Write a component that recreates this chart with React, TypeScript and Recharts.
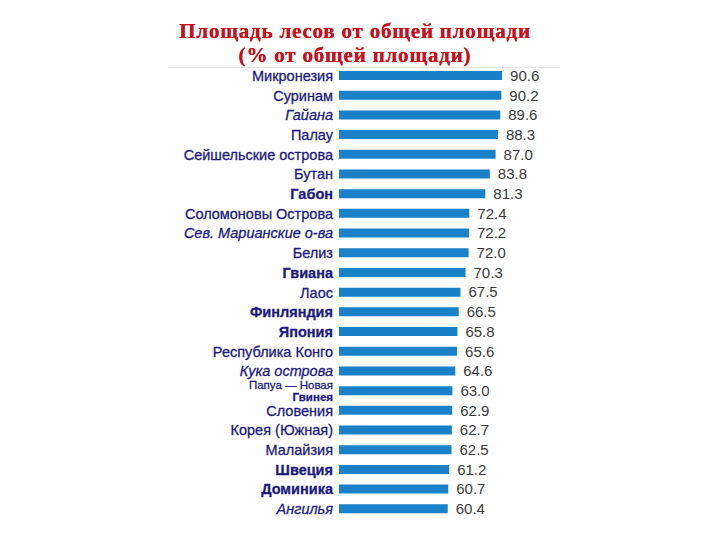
import React from 'react';
import { BarChart, Bar, XAxis, YAxis, LabelList } from 'recharts';

const countries = [
  'Микронезия', 'Суринам', 'Гайана', 'Палау', 'Сейшельские острова', 'Бутан', 'Габон',
  'Соломоновы Острова', 'Сев. Марианские о-ва', 'Белиз', 'Гвиана', 'Лаос', 'Финляндия',
  'Япония', 'Республика Конго', 'Кука острова', 'Папуа — Новая Гвинея', 'Словения',
  'Корея (Южная)', 'Малайзия', 'Швеция', 'Доминика', 'Ангилья',
];
const forestShare = [
  90.6, 90.2, 89.6, 88.3, 87.0, 83.8, 81.3, 72.4, 72.2, 72.0, 70.3, 67.5,
  66.5, 65.8, 65.6, 64.6, 63.0, 62.9, 62.7, 62.5, 61.2, 60.7, 60.4,
];

// label styling (as in the original slide)
const italicNames = new Set(['Гайана', 'Сев. Марианские о-ва', 'Кука острова', 'Ангилья']);
const boldNames = new Set(['Габон', 'Гвиана', 'Финляндия', 'Япония', 'Швеция', 'Доминика']);
const lineBreaks: Record<string, string[]> = {
  'Папуа — Новая Гвинея': ['Папуа — Новая', 'Гвинея'],
};

const data = countries.map((name, i) => ({ name, value: forestShare[i] }));

const CountryTick = (props: any) => {
  const { x, y, payload } = props;
  const name: string = payload.value;
  const lines = lineBreaks[name] || [name];
  const multi = lines.length > 1;
  const step = 12;
  const start = -((lines.length - 1) * step) / 2;
  return (
    <g>
      {lines.map((line, i) => (
        <text
          key={i}
          x={x}
          y={y + start + i * step}
          dy={multi ? 4 : 5}
          textAnchor="end"
          fontFamily="Liberation Sans, Arial, sans-serif"
          fontSize={multi ? 11.5 : 14.5}
          fill="#1a1a80"
          stroke="#1a1a80"
          strokeWidth={0.3}
          fontStyle={italicNames.has(name) ? 'italic' : 'normal'}
          fontWeight={boldNames.has(name) || (multi && i === 1) ? 'bold' : 'normal'}
        >
          {line}
        </text>
      ))}
    </g>
  );
};

const titleStyle: React.CSSProperties = {
  position: 'absolute', left: 0, width: 710, textAlign: 'center',
  fontFamily: 'Liberation Serif, Times New Roman, serif', fontWeight: 'bold',
  fontSize: 21, lineHeight: '24px', height: 24, color: '#c8101a', letterSpacing: 0.8,
  textShadow: '0 0 0.6px #c8101a', whiteSpace: 'nowrap',
};

export default function App() {
  return (
    <div style={{ position: 'absolute', left: 0, top: 0, width: 720, height: 540, background: '#fff' }}>
      <div style={{ ...titleStyle, top: 19 }}>Площадь лесов от общей площади</div>
      <div style={{ ...titleStyle, top: 43 }}>(% от общей площади)</div>
      <div style={{ position: 'absolute', left: 168, top: 67, width: 392, height: 1, background: '#e2e2e2' }} />
      <BarChart
        width={720}
        height={540}
        data={data}
        layout="vertical"
        margin={{ top: 66, right: 201, left: 0, bottom: 21 }}
      >
        <XAxis type="number" domain={[0, 100]} hide />
        <YAxis
          type="category"
          dataKey="name"
          width={339}
          axisLine={false}
          tickLine={false}
          tickSize={0}
          tickMargin={6}
          interval={0}
          tick={<CountryTick />}
        />
        <Bar dataKey="value" fill="#1a80c8" barSize={9} isAnimationActive={false}>
          <LabelList
            dataKey="value"
            position="right"
            offset={8}
            fill="#3a3a3a"
            fontSize={15}
            fontFamily="Liberation Sans, Arial, sans-serif"
            formatter={(v: any) => Number(v).toFixed(1)}
          />
        </Bar>
      </BarChart>
    </div>
  );
}
